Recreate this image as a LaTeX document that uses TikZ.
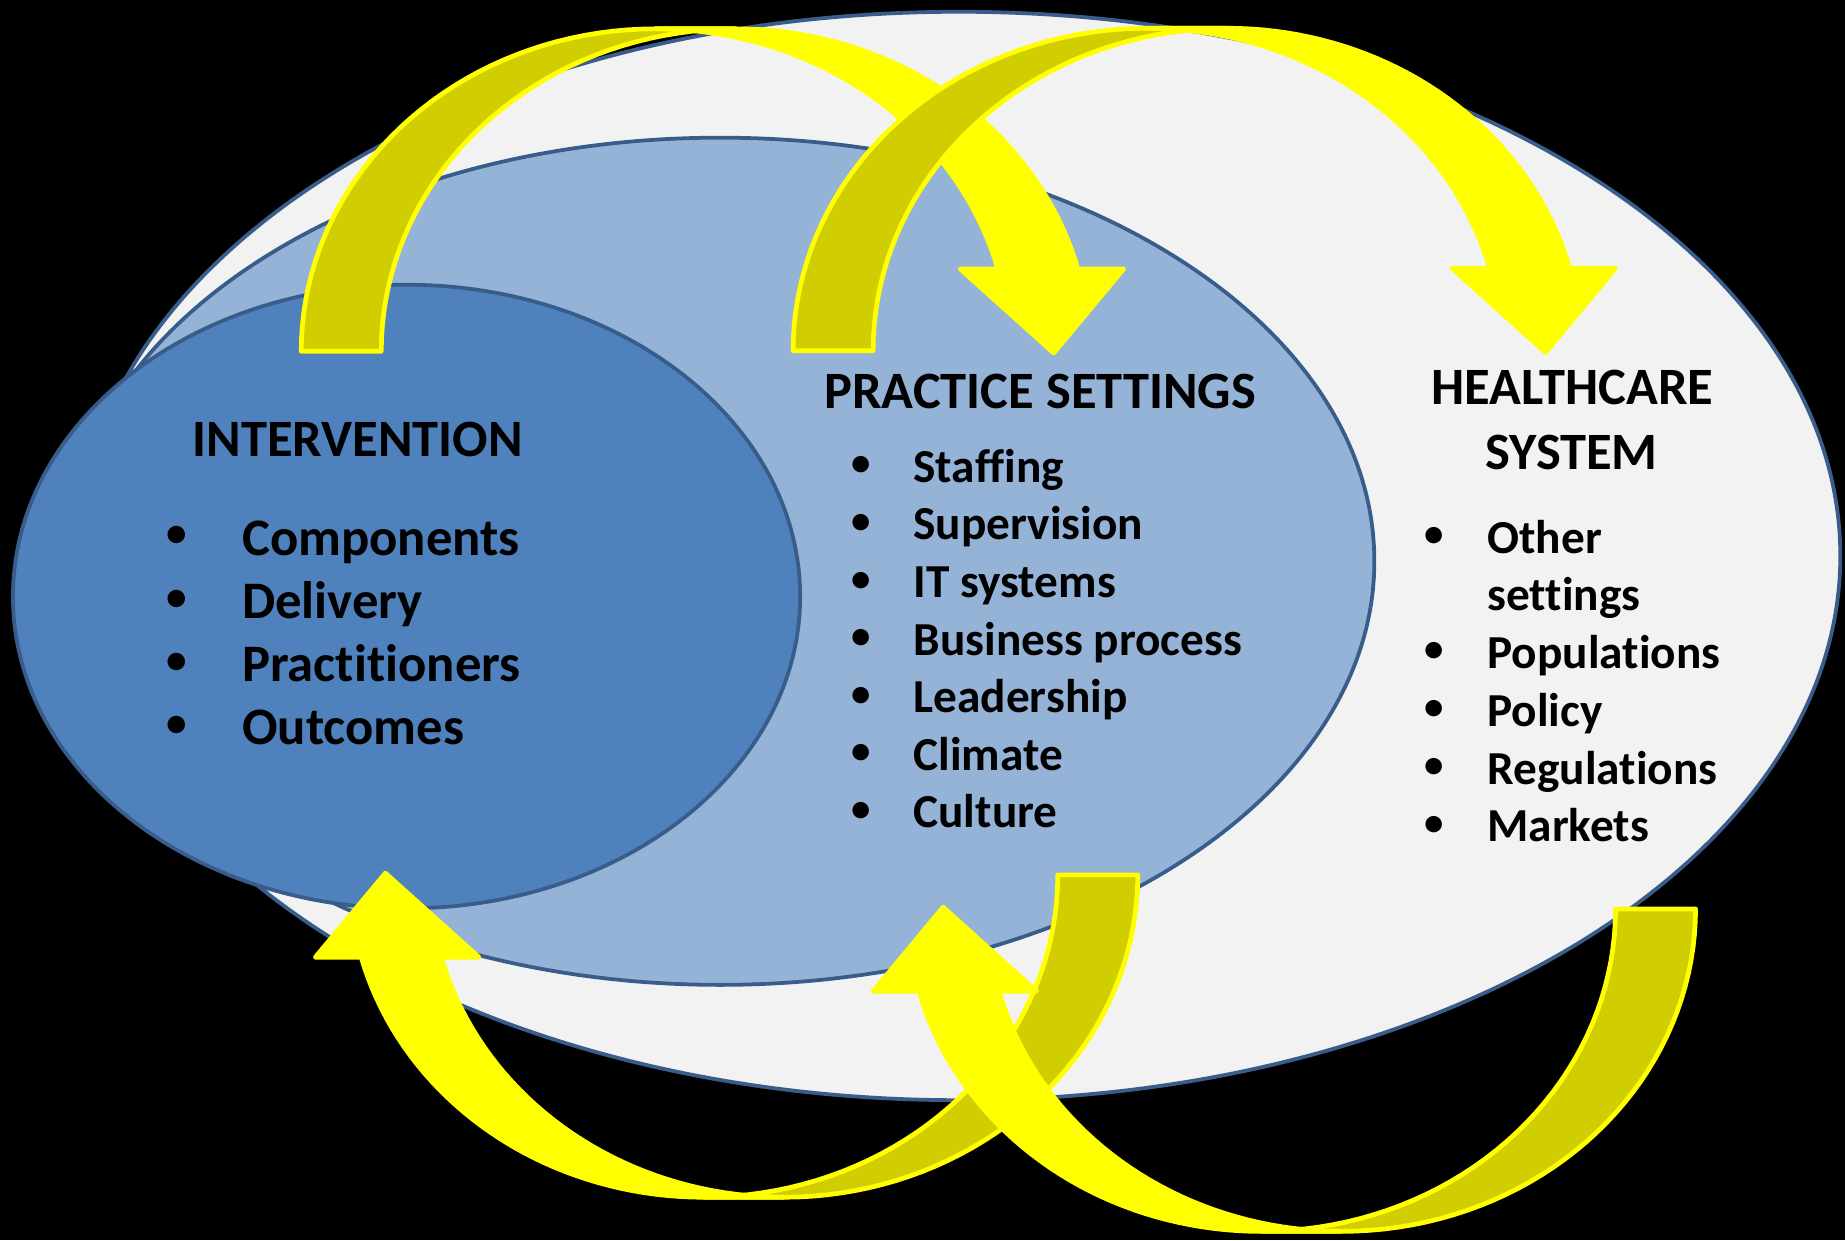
\documentclass[tikz,border=0pt]{standalone}
\usepackage{fontspec}
\setmainfont{Carlito}[Ligatures=NoCommon]
\definecolor{outerfill}{RGB}{242,242,242}
\definecolor{midfill}{RGB}{149,179,215}
\definecolor{innerfill}{RGB}{79,129,189}
\definecolor{ellborder}{RGB}{56,93,138}
\definecolor{arrowbright}{RGB}{255,255,0}
\definecolor{arrowdark}{RGB}{208,206,0}
% curved arrow: #1,#2 = centre of the inner ellipse at the tail level, #3 = rotation
\newcommand{\curvedband}[3]{%
  \begin{scope}[shift={(#1,#2)},rotate=#3]
    \filldraw[darkpart]
      plot[domain=180:270,samples=40] ({301*cos(\x)},{274*sin(\x)})
      -- plot[domain=270:180,samples=40] ({68+301*cos(\x)},{274*sin(\x)})
      -- cycle;
    \filldraw[brightpart]
      plot[domain=270:345.2,samples=40] ({301*cos(\x)},{274*sin(\x)})
      -- (259,-70) -- (338.5,1.5) -- (398,-70)
      -- plot[domain=345.2:270,samples=40] ({68+301*cos(\x)},{274*sin(\x)})
      -- cycle;
  \end{scope}}
\begin{document}
\begin{tikzpicture}[x=0.5pt,y=-0.5pt,
  ell/.style={draw=ellborder,line width=1.6pt},
  hdg/.style={font=\fontsize{22.3}{27}\selectfont\bfseries,inner sep=0pt,anchor=base},
  itemA/.style={font=\fontsize{22.4}{27}\selectfont\bfseries,inner sep=0pt,anchor=base west},
  itemB/.style={font=\fontsize{20.1}{24}\selectfont\bfseries,inner sep=0pt,anchor=base west},
  bulA/.style={font=\fontsize{17.5}{20}\selectfont\bfseries,inner sep=0pt,anchor=center},
  bulB/.style={font=\fontsize{16.5}{20}\selectfont\bfseries,inner sep=0pt,anchor=center},
  darkpart/.style={fill=arrowdark,draw=arrowbright,line width=2pt,line join=round},
  brightpart/.style={fill=arrowbright,draw=arrowbright,line width=2pt,line join=round}]
\fill[black] (0,0) rectangle (1568,1054);
\useasboundingbox (0,0) rectangle (1568,1054);
% ellipses
\draw[ell,fill=outerfill] (815,472.5) ellipse [x radius=374.5pt, y radius=231.25pt];
\draw[ell,fill=midfill] (612,477) ellipse [x radius=278pt, y radius=180pt];
\draw[ell,fill=innerfill] (345.5,507) ellipse [x radius=167.25pt, y radius=132.5pt];
% intervention
\node[hdg] (int) at (304,388) {INTERVENTION};
\foreach \yy/\nm/\tx in {471.7/i1/Components,525.5/i2/Delivery,579.3/i3/Practitioners,633.1/i4/Outcomes}{
  \node[bulA] (\nm b) at (150,\yy-15.6) {•};
  \node[itemA] (\nm) at (205.4,\yy) {\tx};
}
% practice settings
\node[hdg] (prac) at (884,347) {PRACTICE SETTINGS};
\foreach \yy/\nm/\tx in {410/p1/Staffing,458.9/p2/Supervision,507.8/p3/IT systems,556.7/p4/Business process,605.6/p5/Leadership,654.5/p6/Climate,703.4/p7/Culture}{
  \node[bulB] (\nm b) at (732,\yy-13.6) {•};
  \node[itemB] (\nm) at (776,\yy) {\tx};
}
% healthcare system
\node[hdg] (hc1) at (1336.4,343.6) {HEALTHCARE};
\node[hdg] (hc2) at (1335.7,398.8) {SYSTEM};
\node[bulB] (h1b) at (1218.5,456.4) {•};
\node[itemB] (h1) at (1263.7,470) {Other};
\node[itemB] (h1s) at (1263.7,519) {settings};
\foreach \yy/\nm/\tx in {568/h2/Populations,617.2/h3/Policy,666.3/h4/Regulations,715.4/h5/Markets}{
  \node[bulB] (\nm b) at (1218.5,\yy-13.6) {•};
  \node[itemB] (\nm) at (1263.7,\yy) {\tx};
}
% arrows
\curvedband{557}{298.5}{0}
\curvedband{975}{298}{0}
\curvedband{666}{743.5}{180}
\curvedband{1140}{772.5}{180}
\end{tikzpicture}
\end{document}
